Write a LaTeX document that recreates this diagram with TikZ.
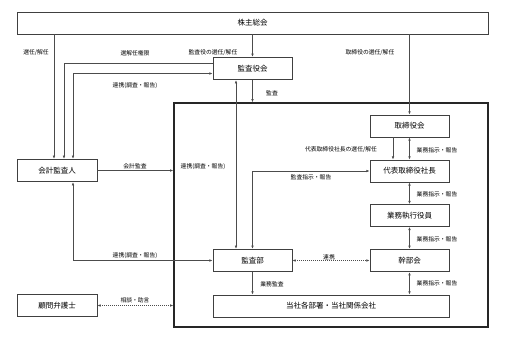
\documentclass[tikz,border=0pt]{standalone}
\usepackage{fontspec}
\setmainfont{Noto Sans CJK JP}
\usetikzlibrary{arrows.meta}
\tikzset{
  box/.style={draw=black!75, line width=0.8pt, fill=white, inner sep=0pt,
    minimum width=79pt, minimum height=22.5pt, font=\fontsize{7.5}{9}\selectfont},
  lbl/.style={inner sep=0pt, font=\fontsize{5.8}{7}\selectfont},
  conn/.style={draw=black!70, line width=0.6pt},
  arr/.style={conn, -{Latex[length=3.2pt,width=2.6pt]}},
  darr/.style={conn, {Latex[length=3.2pt,width=2.6pt]}-{Latex[length=3.2pt,width=2.6pt]}},
  dot/.style={dash pattern=on 1pt off 1pt}
}
\begin{document}
\begin{tikzpicture}[x=1pt,y=-1pt]
\useasboundingbox (0,0) rectangle (505,341);
% outer frame
\node[draw=black!85, line width=1.5pt, minimum width=314pt, minimum height=224pt, inner sep=0pt] (outer) at (331,215) {};
% boxes
\node[box, minimum width=471pt, minimum height=22pt] (kabu) at (252.5,23) {株主総会};
\node[box] (kansayaku) at (252.5,68.5) {監査役会};
\node[box, minimum width=80pt] (kaikei) at (57,170.5) {会計監査人};
\node[box, minimum width=80pt] (komon) at (57,305.5) {顧問弁護士};
\node[box, minimum height=22pt] (torishimari) at (409.5,126) {取締役会};
\node[box, minimum height=22pt] (daihyo) at (409.5,171) {代表取締役社長};
\node[box, minimum height=22pt] (gyomu) at (409.5,215.5) {業務執行役員};
\node[box] (kanbu) at (409.5,260.5) {幹部会};
\node[box] (kansabu) at (252.5,260.5) {監査部};
\node[box, minimum width=236pt, minimum height=22pt] (tosha) at (331,306) {当社各部署・当社関係会社};
% connectors from 株主総会
\draw[arr] ([xshift=-3pt]kaikei.north |- kabu.south) -- ([xshift=-3pt]kaikei.north);
\draw[arr] (kabu.south -| kansayaku.north) -- (kansayaku.north);
\draw[arr] (kabu.south -| torishimari.north) -- (torishimari.north);
% 監査役会 <-> 会計監査人
\draw[arr] ([yshift=5.5pt]kansayaku.west) -| ([xshift=7pt]kaikei.north);
\draw[darr] ([yshift=-5pt]kansayaku.west) -| ([xshift=16pt]kaikei.north);
% 会計監査人 <-> 監査部
\draw[darr] ([xshift=16pt]kaikei.south) |- (kansabu.west);
% 会計監査
\draw[arr] (kaikei.east) -- (kaikei.east -| outer.west);
% 顧問弁護士
\draw[darr, dot] (komon.east) -- (komon.east -| outer.west);
% 監査役会 -> outer (監査)
\draw[arr] (kansayaku.south) -- (kansayaku.south |- outer.north);
% 監査役会 <-> 監査部
\draw[darr] ([xshift=-16.5pt]kansayaku.south) -- ([xshift=-16.5pt]kansabu.north);
% 代表取締役社長 <-> 監査部
\draw[darr] (daihyo.west) -| (kansabu.north);
% 取締役会 -> 代表取締役社長
\draw[arr] ([xshift=-16.5pt]torishimari.south) -- ([xshift=-16.5pt]daihyo.north);
\draw[darr] (torishimari.south) -- (daihyo.north);
\draw[darr] (daihyo.south) -- (gyomu.north);
\draw[darr] (gyomu.south) -- (kanbu.north);
\draw[darr] (kanbu.south) -- (kanbu.south |- tosha.north);
\draw[arr] (kansabu.south) -- (kansabu.south |- tosha.north);
\draw[darr, dot] (kansabu.east) -- (kanbu.west);
% labels
\node[lbl] (l1) at (36,53) {選任/解任};
\node[lbl] (l2) at (135,53) {選解任権限};
\node[lbl] (l3) at (213,53) {監査役の選任/解任};
\node[lbl] (l4) at (370,53) {取締役の選任/解任};
\node[lbl] (l5) at (135,86) {連携(調査・報告)};
\node[lbl] (l6) at (272,93) {監査};
\node[lbl] (l7) at (135,166) {会計監査};
\node[lbl] (l8) at (203,167) {連携(調査・報告)};
\node[lbl] (l9) at (341,150) {代表取締役社長の選任/解任};
\node[lbl] (l10) at (437,150) {業務指示・報告};
\node[lbl] (l11) at (437,194) {業務指示・報告};
\node[lbl] (l12) at (437,239) {業務指示・報告};
\node[lbl] (l13) at (437,283) {業務指示・報告};
\node[lbl] (l14) at (311,177) {監査指示・報告};
\node[lbl] (l15) at (329,257) {連携};
\node[lbl] (l16) at (272,284) {業務監査};
\node[lbl] (l17) at (135,256) {連携(調査・報告)};
\node[lbl] (l18) at (135,300) {相談・助言};
\end{tikzpicture}
\end{document}
